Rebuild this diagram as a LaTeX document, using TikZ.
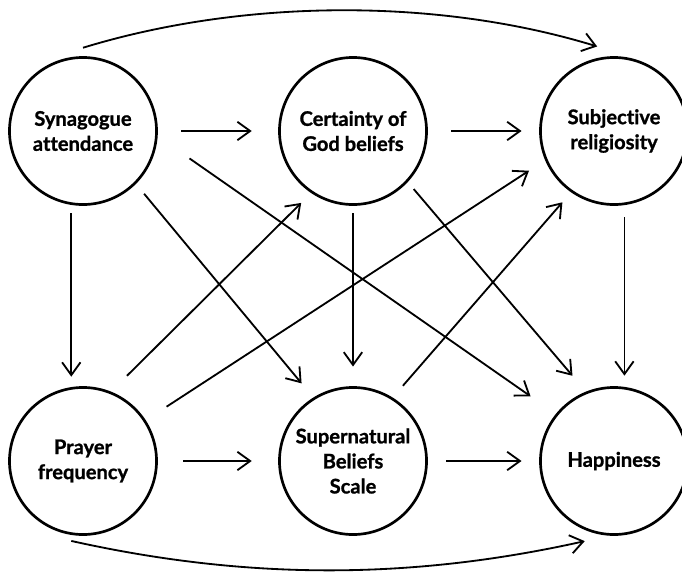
\documentclass[tikz,border=0pt]{standalone}
\usepackage{fontspec}
\setmainfont{Lato}[Ligatures=NoCommon, BoldFeatures={FakeBold=1.1}]
\usepackage{tikz}
\usetikzlibrary{arrows.meta}

\begin{document}
\begin{tikzpicture}[x=0.025cm, y=-0.025cm,
    var/.style={draw, circle, line width=1.9pt, minimum size=3.675cm, inner sep=0pt, align=center, font=\fontsize{14.3}{17.8}\selectfont\bfseries},
    link/.style={-{Straight Barb[length=3.2mm, width=4.6mm]}, line width=1.3pt}]
    \useasboundingbox (0,0) rectangle (682,573);

    \foreach \n/\x/\y/\t in {syn/83/131/{Synagogue\\attendance}, cert/353/131/{Certainty of\\God beliefs}, subj/614/131/{Subjective\\religiosity}, pray/83/461/{Prayer\\frequency}, super/353/461/{Supernatural\\Beliefs\\Scale}, happy/614/461/Happiness}
        \node[var] (\n) at (\x,\y) {\t};

    \foreach \a/\b/\s/\e in {syn.east/cert.west/0.59cm/0.66cm, cert.east/subj.west/0.59cm/0.44cm, pray.east/super.west/0.64cm/0.66cm, super.east/happy.west/0.46cm/0.44cm, syn.-99/pray.99/0.21cm/0.26cm, cert.south/super.north/0.19cm/0.49cm, subj.-82/happy.82/0.3cm/0.28cm, syn.-45/super.122/0.32cm/0.46cm, syn.-4/happy.141/0.97cm/0.77cm, cert.-43/happy.112/0.23cm/0.52cm, pray.68/cert.-124/0.56cm/0.35cm, pray.33/subj.-157/0.62cm/0.48cm, super.58/subj.-125/0.39cm/0.33cm}
        \draw[link, shorten <=\s, shorten >=\e] (\a) -- (\b);

    \draw[link] ([yshift=0.21cm]syn.north) .. controls +(160,-49) and +(-160,-49) .. ([yshift=0.29cm]subj.103);
    \draw[link] ([yshift=-0.15cm]pray.-99) .. controls +(175,39) and +(-175,39) .. ([yshift=-0.28cm]happy.-113);
\end{tikzpicture}
\end{document}
